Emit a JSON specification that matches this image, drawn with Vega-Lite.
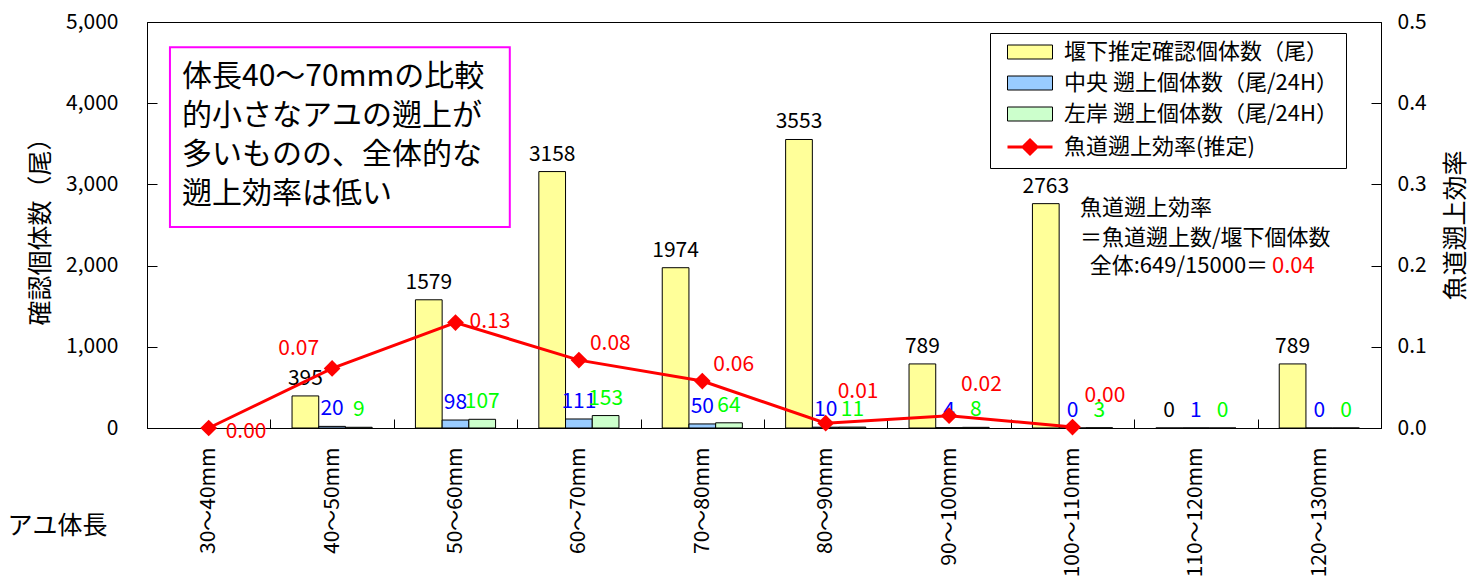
{
  "$schema": "https://vega.github.io/schema/vega-lite/v6.json",
  "width": 1234,
  "height": 406,
  "autosize": {"type": "none"},
  "padding": {"left": 147, "top": 22, "right": 91, "bottom": 151},
  "config": {
    "font": "Noto Sans CJK JP",
    "view": {"stroke": "black", "strokeWidth": 1},
    "axis": {"domainColor": "black", "tickColor": "black", "labelColor": "black", "titleColor": "black", "grid": false, "labelFont": "Noto Sans CJK JP", "titleFont": "Noto Sans CJK JP", "titleFontWeight": "normal"},
    "text": {"font": "Noto Sans CJK JP"}
  },
  "datasets": {
    "bars": [
      {"cat": "40～50mm", "series": "堰下推定確認個体数（尾）", "value": 395},
      {"cat": "40～50mm", "series": "中央 遡上個体数（尾/24H）", "value": 20},
      {"cat": "40～50mm", "series": "左岸 遡上個体数（尾/24H）", "value": 9},
      {"cat": "50～60mm", "series": "堰下推定確認個体数（尾）", "value": 1579},
      {"cat": "50～60mm", "series": "中央 遡上個体数（尾/24H）", "value": 98},
      {"cat": "50～60mm", "series": "左岸 遡上個体数（尾/24H）", "value": 107},
      {"cat": "60～70mm", "series": "堰下推定確認個体数（尾）", "value": 3158},
      {"cat": "60～70mm", "series": "中央 遡上個体数（尾/24H）", "value": 111},
      {"cat": "60～70mm", "series": "左岸 遡上個体数（尾/24H）", "value": 153},
      {"cat": "70～80mm", "series": "堰下推定確認個体数（尾）", "value": 1974},
      {"cat": "70～80mm", "series": "中央 遡上個体数（尾/24H）", "value": 50},
      {"cat": "70～80mm", "series": "左岸 遡上個体数（尾/24H）", "value": 64},
      {"cat": "80～90mm", "series": "堰下推定確認個体数（尾）", "value": 3553},
      {"cat": "80～90mm", "series": "中央 遡上個体数（尾/24H）", "value": 10},
      {"cat": "80～90mm", "series": "左岸 遡上個体数（尾/24H）", "value": 11},
      {"cat": "90～100mm", "series": "堰下推定確認個体数（尾）", "value": 789},
      {"cat": "90～100mm", "series": "中央 遡上個体数（尾/24H）", "value": 4},
      {"cat": "90～100mm", "series": "左岸 遡上個体数（尾/24H）", "value": 8},
      {"cat": "100～110mm", "series": "堰下推定確認個体数（尾）", "value": 2763},
      {"cat": "100～110mm", "series": "中央 遡上個体数（尾/24H）", "value": 0},
      {"cat": "100～110mm", "series": "左岸 遡上個体数（尾/24H）", "value": 3},
      {"cat": "110～120mm", "series": "堰下推定確認個体数（尾）", "value": 0},
      {"cat": "110～120mm", "series": "中央 遡上個体数（尾/24H）", "value": 1},
      {"cat": "110～120mm", "series": "左岸 遡上個体数（尾/24H）", "value": 0},
      {"cat": "120～130mm", "series": "堰下推定確認個体数（尾）", "value": 789},
      {"cat": "120～130mm", "series": "中央 遡上個体数（尾/24H）", "value": 0},
      {"cat": "120～130mm", "series": "左岸 遡上個体数（尾/24H）", "value": 0}
    ],
    "eff": [
      {"cat": "30～40mm", "eff": 0.0},
      {"cat": "40～50mm", "eff": 0.0734},
      {"cat": "50～60mm", "eff": 0.1298},
      {"cat": "60～70mm", "eff": 0.0836},
      {"cat": "70～80mm", "eff": 0.0578},
      {"cat": "80～90mm", "eff": 0.0059},
      {"cat": "90～100mm", "eff": 0.0152},
      {"cat": "100～110mm", "eff": 0.0011}
    ]
  },
  "layer": [
    {
      "layer": [
        {
          "data": {"name": "bars"},
          "mark": {"type": "bar", "stroke": "black", "strokeWidth": 1},
          "encoding": {
            "x": {"field": "cat", "type": "nominal", "sort": null, "title": "アユ体長",
              "scale": {"domain": ["30～40mm","40～50mm","50～60mm","60～70mm","70～80mm","80～90mm","90～100mm","100～110mm","110～120mm","120～130mm"], "paddingInner": 0, "paddingOuter": 0},
              "axis": {"tickBand": "extent", "labelAngle": -90, "labelAlign": "right", "labelBaseline": "middle", "labelFontSize": 21, "tickSize": -9, "labelPadding": 28, "titleX": -140, "titleY": 97, "titleAlign": "left", "titleBaseline": "middle", "titleAngle": 0, "titleFontSize": 25}},
            "xOffset": {"field": "series", "type": "nominal", "sort": null,
              "scale": {"domain": ["堰下推定確認個体数（尾）", "中央 遡上個体数（尾/24H）", "左岸 遡上個体数（尾/24H）"], "paddingInner": 0, "paddingOuter": 0.81}},
            "y": {"field": "value", "type": "quantitative", "title": "確認個体数（尾）",
              "scale": {"domain": [0, 5000], "nice": false},
              "axis": {"values": [0, 1000, 2000, 3000, 4000, 5000], "labelExpr": "format(datum.value, ',')", "labelFontSize": 21, "tickSize": -10, "labelPadding": 39, "titleFontSize": 25, "titlePadding": 12}},
            "color": {"field": "series", "type": "nominal",
              "scale": {"domain": ["堰下推定確認個体数（尾）", "中央 遡上個体数（尾/24H）", "左岸 遡上個体数（尾/24H）", "魚道遡上効率(推定)"], "range": ["#FFFF99", "#99CCFF", "#CCFFCC", "#FF0000"]},
              "legend": {
                "title": null, "orient": "none", "legendX": 843, "legendY": 11, "direction": "vertical",
                "fillColor": "white", "strokeColor": "black", "padding": 8,
                "symbolSize": 400, "symbolOffset": 21, "labelOffset": 23, "labelFontSize": 22, "labelFont": "Noto Sans CJK JP", "labelColor": "black", "rowPadding": 9, "labelLimit": 500,
                "labelExpr": "datum.label + '\u2002\u2009'",
                "symbolStrokeColor": "black", "symbolStrokeWidth": 1,
                "encode": {"symbols": {"update": {
                  "shape": {"signal": "datum.value === '魚道遡上効率(推定)' ? 'M-2.25,0H2.25M0,-0.7L0.7,0L0,0.7L-0.7,0Z' : 'M-2.25,-0.7H2.25V0.7H-2.25Z'"},
                  "stroke": {"signal": "datum.value === '魚道遡上効率(推定)' ? '#FF0000' : 'black'"},
                  "strokeWidth": {"signal": "datum.value === '魚道遡上効率(推定)' ? 3 : 1"}
                }}}
              }}
          }
        },
        {
          "data": {"name": "bars"},
          "mark": {"type": "text", "baseline": "alphabetic", "align": "center", "dy": -11, "fontSize": 21},
          "encoding": {
            "x": {"field": "cat", "type": "nominal", "sort": null, "title": "アユ体長"},
            "xOffset": {"field": "series", "type": "nominal", "sort": null,
              "scale": {"domain": ["堰下推定確認個体数（尾）", "中央 遡上個体数（尾/24H）", "左岸 遡上個体数（尾/24H）"], "paddingInner": 0, "paddingOuter": 0.81}},
            "y": {"field": "value", "type": "quantitative", "title": "確認個体数（尾）"},
            "text": {"field": "value", "type": "quantitative", "format": "d"},
            "color": {"condition": [
              {"test": "datum.series === '中央 遡上個体数（尾/24H）'", "value": "#0000FF"},
              {"test": "datum.series === '左岸 遡上個体数（尾/24H）'", "value": "#00FF00"}
            ], "value": "black"}
          }
        },
        {
          "data": {"values": [{}]},
          "mark": {"type": "rect", "fill": "white", "stroke": "#FF00FF", "strokeWidth": 2},
          "encoding": {
            "x": {"datum": "30～40mm", "type": "nominal", "bandPosition": 0.186, "title": "アユ体長"},
            "x2": {"datum": "50～60mm", "bandPosition": 0.94},
            "y": {"datum": 4690, "type": "quantitative", "title": "確認個体数（尾）"},
            "y2": {"datum": 2475}
          }
        },
        {
          "data": {"values": [{}]},
          "mark": {"type": "text", "align": "left", "baseline": "middle", "fontSize": 30, "lineHeight": 39, "color": "black",
            "text": ["体長40～70mmの比較", "的小さなアユの遡上が", "多いものの、全体的な", "遡上効率は低い"]},
          "encoding": {
            "x": {"datum": "30～40mm", "type": "nominal", "bandPosition": 0.284, "title": "アユ体長"},
            "y": {"datum": 4323, "type": "quantitative", "title": "確認個体数（尾）"}
          }
        },
        {
          "data": {"values": [{}]},
          "mark": {"type": "text", "align": "left", "baseline": "middle", "fontSize": 22, "lineHeight": 29.5, "color": "black",
            "text": ["魚道遡上効率", "＝魚道遡上数/堰下個体数"]},
          "encoding": {
            "x": {"datum": "100～110mm", "type": "nominal", "bandPosition": 0.56, "title": "アユ体長"},
            "y": {"datum": 2709, "type": "quantitative", "title": "確認個体数（尾）"}
          }
        },
        {
          "data": {"values": [{}]},
          "mark": {"type": "text", "align": "right", "baseline": "middle", "fontSize": 22, "color": "black", "text": "全体:649/15000＝"},
          "encoding": {
            "x": {"datum": "120～130mm", "type": "nominal", "bandPosition": 0.085, "title": "アユ体長"},
            "y": {"datum": 1995, "type": "quantitative", "title": "確認個体数（尾）"}
          }
        },
        {
          "data": {"values": [{}]},
          "mark": {"type": "text", "align": "left", "baseline": "middle", "fontSize": 22, "color": "#FF0000", "text": "0.04"},
          "encoding": {
            "x": {"datum": "120～130mm", "type": "nominal", "bandPosition": 0.117, "title": "アユ体長"},
            "y": {"datum": 1995, "type": "quantitative", "title": "確認個体数（尾）"}
          }
        }
      ]
    },
    {
      "data": {"name": "eff"},
      "encoding": {
        "x": {"field": "cat", "type": "nominal", "sort": null, "title": "アユ体長"},
        "y": {"field": "eff", "type": "quantitative", "title": "魚道遡上効率",
          "scale": {"domain": [0, 0.5], "nice": false},
          "axis": {"orient": "right", "values": [0, 0.1, 0.2, 0.3, 0.4, 0.5], "format": ".1f", "labelFontSize": 21, "tickSize": -10, "labelPadding": 26, "titleFontSize": 25, "titlePadding": 17, "titleAngle": -90, "titleBaseline": "top"}}
      },
      "layer": [
        {"mark": {"type": "line", "color": "#FF0000", "strokeWidth": 3, "point": {"shape": "diamond", "size": 280, "filled": true, "color": "#FF0000"}}},
        {
          "transform": [{"filter": {"field": "cat", "oneOf": ["60～70mm", "70～80mm"]}}],
          "mark": {"type": "text", "align": "left", "baseline": "middle", "dx": 11, "dy": -16, "fontSize": 21, "color": "#FF0000"},
          "encoding": {"text": {"field": "eff", "type": "quantitative", "format": ".2f"}}
        },
        {
          "transform": [{"filter": {"field": "cat", "oneOf": ["80～90mm", "90～100mm", "100～110mm"]}}],
          "mark": {"type": "text", "align": "left", "baseline": "middle", "dx": 12, "dy": -31, "fontSize": 21, "color": "#FF0000"},
          "encoding": {"text": {"field": "eff", "type": "quantitative", "format": ".2f"}}
        },
        {
          "transform": [{"filter": {"field": "cat", "equal": "50～60mm"}}],
          "mark": {"type": "text", "align": "left", "baseline": "middle", "dx": 14, "dy": -1, "fontSize": 21, "color": "#FF0000"},
          "encoding": {"text": {"field": "eff", "type": "quantitative", "format": ".2f"}}
        },
        {
          "transform": [{"filter": {"field": "cat", "equal": "40～50mm"}}],
          "mark": {"type": "text", "align": "right", "baseline": "middle", "dx": -13, "dy": -19, "fontSize": 21, "color": "#FF0000"},
          "encoding": {"text": {"field": "eff", "type": "quantitative", "format": ".2f"}}
        },
        {
          "transform": [{"filter": {"field": "cat", "equal": "30～40mm"}}],
          "mark": {"type": "text", "align": "left", "baseline": "middle", "dx": 17, "dy": 4, "fontSize": 21, "color": "#FF0000"},
          "encoding": {"text": {"field": "eff", "type": "quantitative", "format": ".2f"}}
        }
      ]
    }
  ],
  "resolve": {"scale": {"y": "independent"}, "axis": {"y": "independent"}}
}
